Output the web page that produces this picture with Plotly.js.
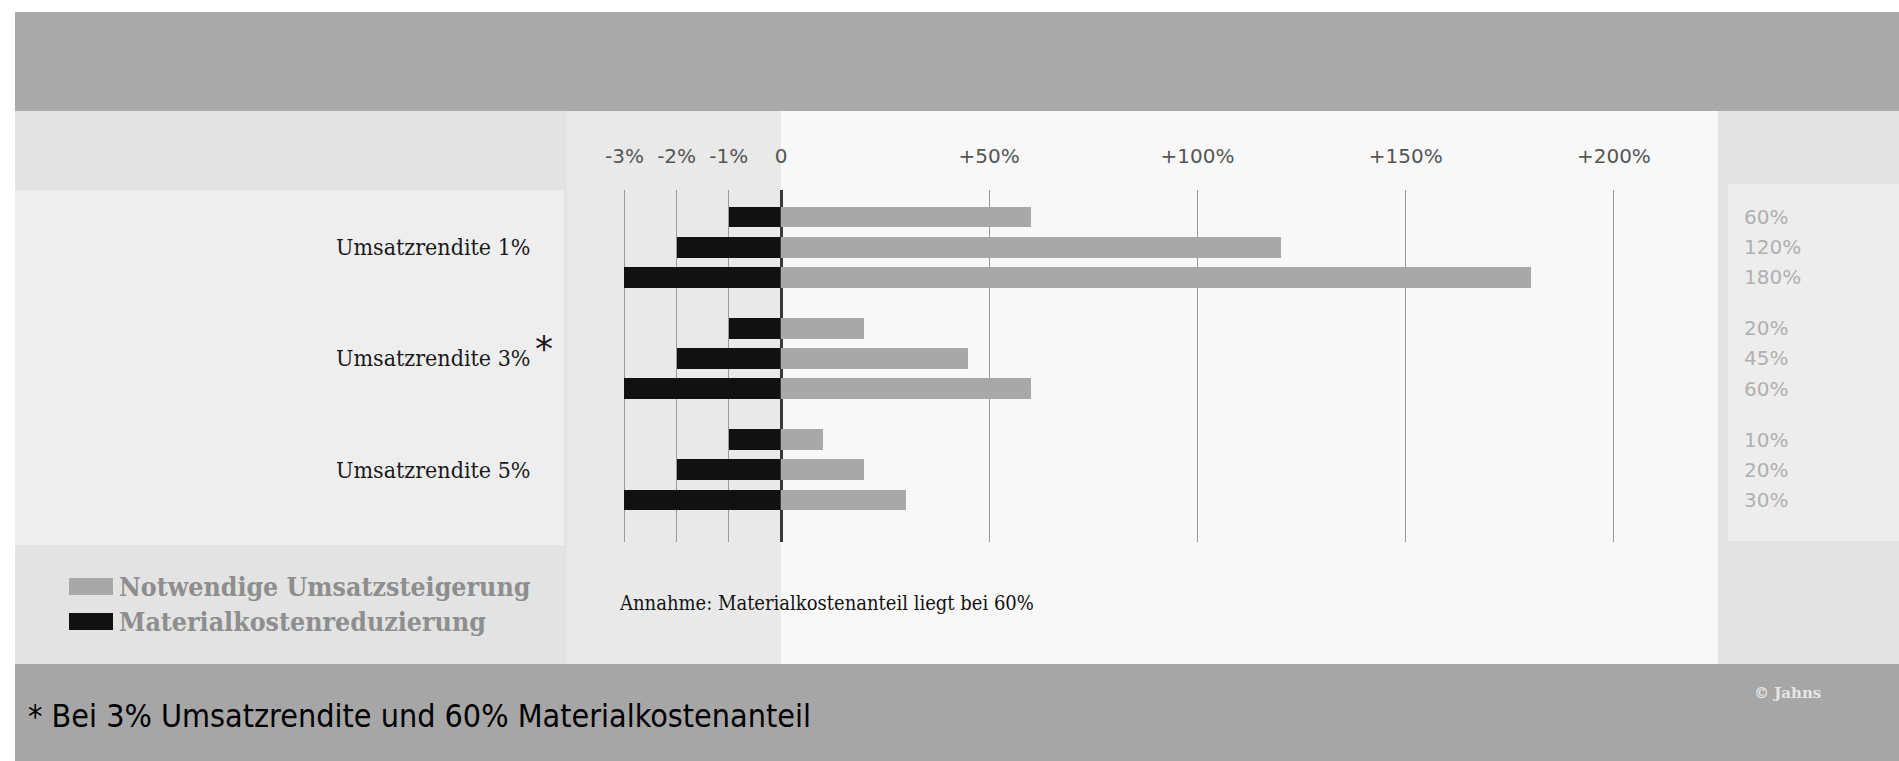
<!DOCTYPE html>
<html><head><meta charset="utf-8">
<script src="https://cdn.plot.ly/plotly-3.0.1.min.js"></script>
<style>html,body{margin:0;padding:0;background:#fff;overflow:hidden}#chart{width:1899px;height:761px}</style>
</head><body><div id="chart"></div>
<script>
// ---- data ----
const groups = ["Umsatzrendite 1%", "Umsatzrendite 3%", "Umsatzrendite 5%"];
const starredGroup = "Umsatzrendite 3%";
const seriesNames = ["Notwendige Umsatzsteigerung", "Materialkostenreduzierung"];
const umsatzsteigerung = [60, 120, 180, 20, 45, 60, 10, 20, 30];
const materialkosten = [-1, -2, -3, -1, -2, -3, -1, -2, -3];
const rowGroup = [0, 0, 0, 1, 1, 1, 2, 2, 2];
const rowInGroup = [0, 1, 2, 0, 1, 2, 0, 1, 2];
const negTicks = [-3, -2, -1, 0];
const negTickText = ["-3%", "-2%", "-1%", "0"];
const posTicks = [50, 100, 150, 200];
const posTickText = ["+50%", "+100%", "+150%", "+200%"];
const note = "Annahme: Materialkostenanteil liegt bei 60%";
const footnote = "* Bei 3% Umsatzrendite und 60% Materialkostenanteil";
const credit = "\u00A9 Jahns";

// ---- layout helpers ----
const W = 1899, H = 761;
const px = x => x / W;
const py = y => 1 - y / H;
const GROUP_STEP = 3.7;
const rowPos = rowGroup.map((g, i) => g * GROUP_STEP + rowInGroup[i]);
const groupCenter = groups.map((_, g) => g * GROUP_STEP + 1);

const grey = '#a8a8a8', black = '#111111';
const serifC = 'DejaVu Serif Condensed, DejaVu Serif';
const sansC = 'DejaVu Sans Condensed, DejaVu Sans';

const traces = [
  {type: 'bar', orientation: 'h', name: seriesNames[1], x: materialkosten, y: rowPos,
   xaxis: 'x', yaxis: 'y', width: 0.69, marker: {color: black}, showlegend: false},
  {type: 'bar', orientation: 'h', name: seriesNames[0], x: umsatzsteigerung, y: rowPos,
   xaxis: 'x2', yaxis: 'y', width: 0.69, marker: {color: grey}, showlegend: false}
];

function rect(x0, y0, x1, y1, color) {
  return {type: 'rect', xref: 'paper', yref: 'paper', x0: px(x0), x1: px(x1), y0: py(y1), y1: py(y0),
          fillcolor: color, line: {width: 0}, layer: 'below'};
}
const shapes = [
  rect(15, 12, W, 111, '#a9a9a9'),
  rect(15, 111, W, 664, '#e3e3e3'),
  rect(15, 190, 564, 545, '#eeeeee'),
  rect(567, 111, 781, 664, '#e9e9e9'),
  rect(781, 111, 1718, 664, '#f8f8f8'),
  rect(1728, 184, W, 541, '#ededed'),
  rect(15, 664, W, H, '#a6a6a6'),
  // legend swatches
  rect(69, 578, 113, 595, grey),
  rect(69, 613, 113, 630, black)
];

const tickFont = {family: 'DejaVu Sans', size: 20, color: '#555'};
const annotations = [];
groups.forEach((g, i) => {
  annotations.push({xref: 'paper', yref: 'y', x: px(533), y: groupCenter[i], xanchor: 'right', yanchor: 'middle',
    text: g, showarrow: false, font: {family: serifC, size: 23, color: '#1a1a1a'}});
  if (g === starredGroup) {
    annotations.push({xref: 'paper', yref: 'y', x: px(533), y: groupCenter[i], xanchor: 'left', yanchor: 'middle',
      yshift: 10, text: '*', showarrow: false, font: {family: 'DejaVu Sans', size: 36, color: '#1a1a1a'}});
  }
});
umsatzsteigerung.forEach((v, i) => {
  annotations.push({xref: 'paper', yref: 'y', x: px(1742), y: rowPos[i], xanchor: 'left', yanchor: 'middle',
    text: v + '%', showarrow: false, font: {family: 'DejaVu Sans', size: 20, color: '#b0b0b0'}});
});
// legend text
[[seriesNames[0], 586], [seriesNames[1], 621]].forEach(([t, y]) => {
  annotations.push({xref: 'paper', yref: 'paper', x: px(117), y: py(y), xanchor: 'left', yanchor: 'middle',
    text: t, showarrow: false, font: {family: serifC, size: 26.5, color: '#8e8e8e', weight: 'bold'}});
});
annotations.push({xref: 'paper', yref: 'paper', x: px(617), y: py(603), xanchor: 'left', yanchor: 'middle',
  text: note, showarrow: false, font: {family: serifC, size: 20, color: '#111'}});
annotations.push({xref: 'paper', yref: 'paper', x: px(26), y: py(716), xanchor: 'left', yanchor: 'middle',
  text: footnote, showarrow: false, font: {family: sansC, size: 32, color: '#000'}});
annotations.push({xref: 'paper', yref: 'paper', x: px(1752), y: py(693), xanchor: 'left', yanchor: 'middle',
  text: credit, showarrow: false, font: {family: 'DejaVu Serif', size: 15, color: '#e6e6e6', weight: 'bold'}});

const layout = {
  width: W, height: H,
  margin: {l: 0, r: 0, t: 0, b: 0},
  paper_bgcolor: '#ffffff', plot_bgcolor: 'rgba(0,0,0,0)',
  showlegend: false, hovermode: false, bargap: 0,
  xaxis: {domain: [px(567), px(781)], range: [-4.1, 0], side: 'top', anchor: 'y',
    tickvals: negTicks, ticktext: negTickText, ticks: '', ticklabelstandoff: 22,
    showgrid: true, gridcolor: '#9a9a9a', gridwidth: 1, zeroline: false, showline: false,
    tickfont: tickFont, fixedrange: true},
  xaxis2: {domain: [px(781), px(1718)], range: [0, 225], side: 'top', anchor: 'y',
    tickvals: posTicks, ticktext: posTickText, ticks: '', ticklabelstandoff: 22,
    showgrid: true, gridcolor: '#9a9a9a', gridwidth: 1,
    zeroline: true, zerolinecolor: '#3a3a3a', zerolinewidth: 3, showline: false,
    tickfont: tickFont, fixedrange: true},
  yaxis: {domain: [py(542), py(190)], range: [2 * GROUP_STEP + 2 + 1.4, -0.9],
    showticklabels: false, showgrid: false, zeroline: false, ticks: '', fixedrange: true},
  shapes: shapes,
  annotations: annotations
};

Plotly.newPlot('chart', traces, layout, {displayModeBar: false, staticPlot: true});
</script>
</body></html>
